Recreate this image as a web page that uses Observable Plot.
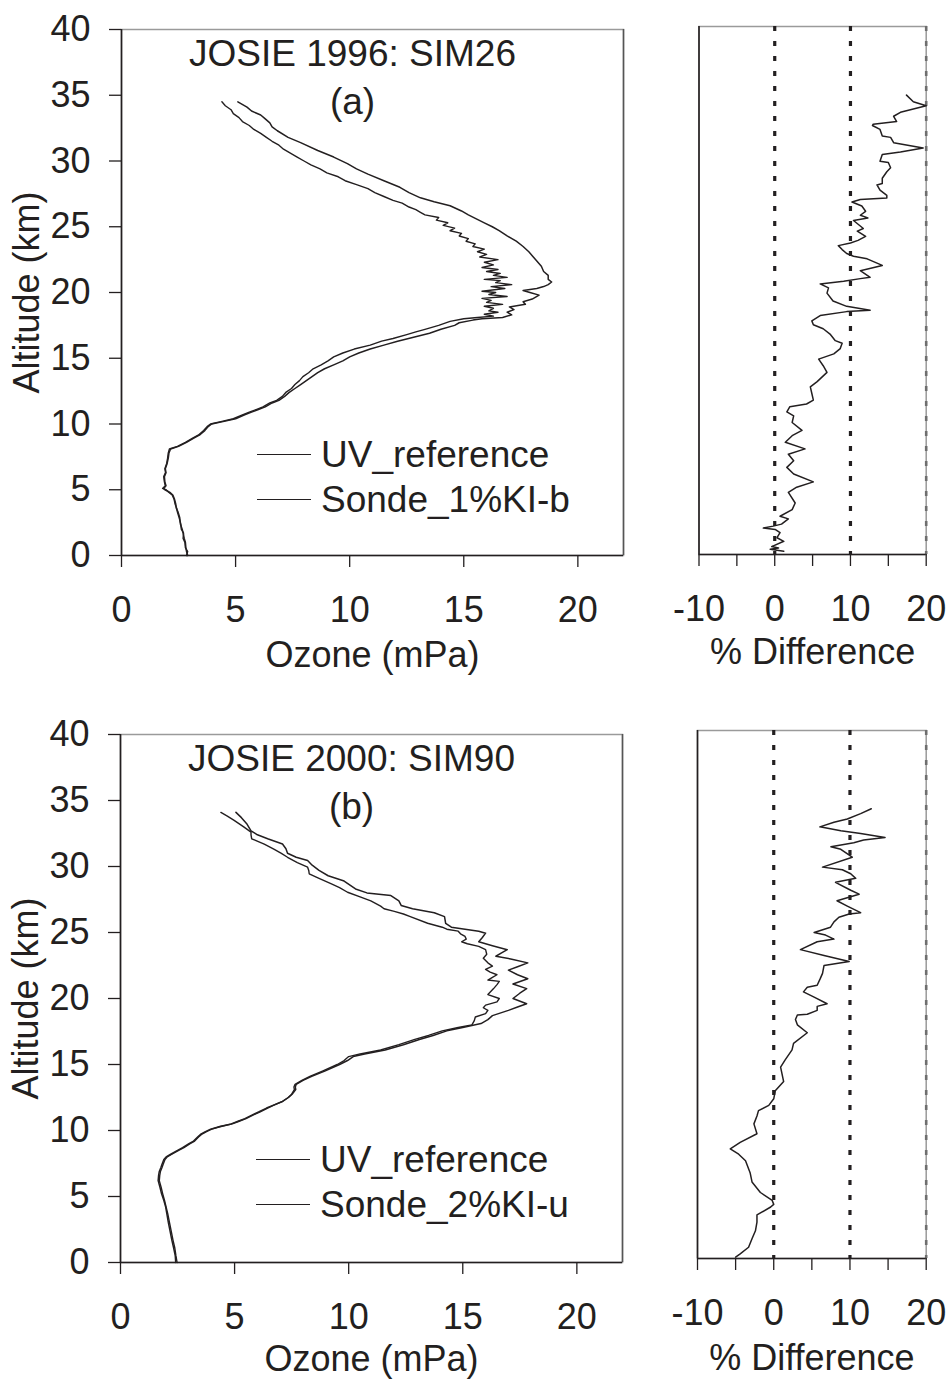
<!DOCTYPE html>
<html><head><meta charset="utf-8">
<script src="https://cdn.jsdelivr.net/npm/d3@7"></script>
<script src="https://cdn.jsdelivr.net/npm/@observablehq/plot@0.6"></script>
<style>
body{margin:0;background:#fff;}
#wrap{position:relative;width:948px;height:1379px;overflow:hidden;font-family:"Liberation Sans",Arial,Helvetica,sans-serif;color:#231f20;background:#fff;}
.panel{position:absolute;}
.leg{position:absolute;font-size:37px;}
.leg .row{display:flex;align-items:center;height:45px;white-space:nowrap;}
.leg .sw{display:inline-block;width:54px;height:0;border-top:1.3px solid #231f20;margin-right:10px;}
</style></head>
<body><div id="wrap"></div>
<script>
// ---------- data ----------
const altDomain = [0, 40];
const altTicks = [0, 5, 10, 15, 20, 25, 30, 35, 40];
const ozoneDomain = [0, 22];
const ozoneTicks = [0, 5, 10, 15, 20];
const diffDomain = [-10, 20];
const diffTicks = [-10, -5, 0, 5, 10, 15, 20];
const diffRefBlack = [0, 10];
const diffRefGrey = [20];

const titles = ["JOSIE 1996: SIM26", "JOSIE 2000: SIM90"];
const tags = ["(a)", "(b)"];
const seriesNames = ["UV_reference", "Sonde_1%KI-b", "Sonde_2%KI-u"];

// [altitude km, ozone mPa]
const uvA = [[0,2.85],[0.3,2.9],[0.6,2.8],[1.0,2.78],[1.3,2.7],[1.7,2.72],[2.0,2.62],[2.4,2.6],[2.9,2.52],[3.3,2.45],[3.6,2.42],[3.9,2.35],[4.3,2.3],[4.6,2.22],[4.8,2.08],[5.0,1.95],[5.1,1.8],[5.3,1.92],[5.6,1.88],[6.0,1.85],[6.3,1.93],[6.6,1.9],[7.0,1.98],[7.4,2.02],[7.8,2.05],[8.1,2.1],[8.3,2.45],[8.6,2.8],[8.9,3.1],[9.2,3.4],[9.5,3.6],[9.8,3.75],[10.0,3.9],[10.2,4.4],[10.4,4.9],[10.7,5.3],[10.9,5.6],[11.1,5.9],[11.3,6.2],[11.6,6.5],[11.8,6.8],[12.1,7.05],[12.4,7.2],[12.7,7.45],[13.0,7.6],[13.3,7.8],[13.6,7.95],[13.9,8.2],[14.2,8.4],[14.5,8.75],[14.8,9.05],[15.1,9.3],[15.4,9.7],[15.7,10.2],[16.0,10.9],[16.3,11.4],[16.5,11.9],[16.8,12.5],[17.0,12.9],[17.2,13.3],[17.5,13.9],[17.8,14.4],[18.0,15.0],[18.1,15.6],[18.2,16.3],[18.35,15.9],[18.5,16.5],[18.6,16.1],[18.8,16.3],[18.95,15.9],[19.1,16.7],[19.25,16.0],[19.4,16.2],[19.55,15.8],[19.7,16.9],[19.85,16.1],[20.0,16.4],[20.1,15.8],[20.3,16.8],[20.45,16.2],[20.6,17.1],[20.75,16.4],[20.9,16.6],[21.0,15.9],[21.15,16.9],[21.3,16.3],[21.45,16.6],[21.6,16.0],[21.75,16.5],[21.9,15.8],[22.1,16.3],[22.3,15.9],[22.5,16.5],[22.7,15.7],[22.9,16.0],[23.1,15.6],[23.3,15.9],[23.5,15.4],[23.7,15.5],[23.9,15.1],[24.1,15.2],[24.3,14.8],[24.5,14.9],[24.7,14.4],[24.9,14.6],[25.1,14.1],[25.3,14.3],[25.5,13.8],[25.7,13.9],[25.9,13.3],[26.1,13.1],[26.3,12.9],[26.5,12.6],[26.8,12.3],[27.0,11.9],[27.3,11.5],[27.6,11.1],[27.9,10.8],[28.2,10.3],[28.5,9.8],[28.8,9.5],[29.1,9.0],[29.4,8.7],[29.7,8.3],[30.0,8.0],[30.3,7.7],[30.6,7.4],[30.9,7.1],[31.2,6.9],[31.5,6.6],[31.8,6.35],[32.1,6.1],[32.4,5.8],[32.7,5.6],[33.0,5.3],[33.3,5.15],[33.6,4.9],[33.9,4.8],[34.2,4.55],[34.5,4.4]];

const sondeA = [[0,2.9],[0.3,2.85],[0.6,2.82],[1.0,2.8],[1.3,2.75],[1.7,2.7],[2.0,2.66],[2.4,2.58],[2.9,2.55],[3.3,2.48],[3.6,2.4],[3.9,2.38],[4.3,2.32],[4.6,2.25],[4.8,2.12],[5.0,1.9],[5.1,1.85],[5.3,1.95],[5.6,1.9],[6.0,1.88],[6.3,1.95],[6.6,1.92],[7.0,2.0],[7.4,2.05],[7.8,2.08],[8.1,2.15],[8.3,2.5],[8.6,2.85],[8.9,3.15],[9.2,3.45],[9.5,3.65],[9.8,3.8],[10.0,3.95],[10.2,4.5],[10.4,5.0],[10.7,5.4],[10.9,5.7],[11.1,6.0],[11.3,6.3],[11.6,6.6],[11.8,6.9],[12.1,7.15],[12.4,7.35],[12.7,7.6],[13.0,7.85],[13.3,8.1],[13.6,8.35],[13.9,8.6],[14.2,8.9],[14.5,9.3],[14.8,9.7],[15.1,10.0],[15.4,10.4],[15.7,10.9],[16.0,11.5],[16.3,12.1],[16.6,12.8],[16.9,13.5],[17.2,14.0],[17.5,14.6],[17.7,14.8],[17.9,15.4],[18.0,15.8],[18.1,16.7],[18.3,17.1],[18.5,16.9],[18.7,17.2],[18.9,17.0],[19.1,17.7],[19.3,17.6],[19.5,18.0],[19.8,18.3],[20.0,17.9],[20.15,17.6],[20.3,18.2],[20.45,18.5],[20.6,18.7],[20.8,18.85],[21.0,18.7],[21.3,18.7],[21.6,18.5],[22.0,18.4],[22.4,18.2],[22.8,18.0],[23.1,17.85],[23.5,17.6],[23.9,17.3],[24.3,16.9],[24.7,16.55],[25.0,16.25],[25.3,15.9],[25.6,15.55],[25.9,15.2],[26.2,14.9],[26.6,14.4],[26.9,13.7],[27.2,13.1],[27.6,12.6],[28.0,12.2],[28.5,11.5],[29.0,10.8],[29.4,10.3],[29.8,9.9],[30.3,9.3],[30.8,8.6],[31.4,7.85],[31.8,7.3],[32.3,6.83],[32.6,6.6],[32.9,6.5],[33.2,6.3],[33.5,6.1],[33.8,5.7],[34.1,5.5],[34.5,5.1]];

// [altitude km, % difference]
const diffA = [[0.25,1.2],[0.4,-0.6],[0.5,0.5],[0.6,-0.4],[1.0,1.2],[1.27,0.3],[1.65,0.7],[1.9,0.05],[2.0,-1.5],[2.15,-0.2],[2.3,0.9],[2.7,1.8],[2.9,0.7],[3.4,2.3],[3.9,2.7],[4.7,1.8],[5.1,2.9],[5.5,5.1],[6.1,2.5],[6.6,1.6],[7.1,2.5],[7.6,1.8],[8.0,4.0],[8.5,1.4],[9.0,2.3],[9.4,3.6],[10.0,2.3],[10.5,2.5],[10.8,1.6],[11.2,2.0],[11.4,4.2],[11.7,5.1],[12.2,4.9],[12.7,4.7],[13.1,5.6],[13.8,6.9],[14.3,6.4],[14.8,5.8],[15.2,7.8],[15.6,8.65],[16.0,8.9],[16.2,8.0],[16.7,7.3],[17.1,6.4],[17.4,5.1],[17.7,4.9],[18.1,6.0],[18.4,9.5],[18.5,12.6],[18.8,9.5],[19.2,7.7],[19.8,6.9],[20.2,7.1],[20.5,6.0],[20.7,9.1],[20.9,11.3],[21.0,12.6],[21.5,11.3],[21.9,14.2],[22.4,12.2],[22.6,10.4],[22.8,9.5],[23.1,8.9],[23.4,8.4],[23.6,10.0],[23.8,11.0],[24.1,12.0],[24.5,10.9],[24.7,11.7],[25.3,10.4],[25.5,12.3],[25.7,11.3],[26.0,12.0],[26.4,11.5],[26.7,10.2],[26.9,11.3],[27.0,14.8],[27.2,14.8],[27.6,13.9],[28.0,13.5],[28.1,14.2],[28.5,14.2],[29.0,14.8],[29.3,15.3],[29.7,15.0],[29.8,13.9],[30.3,14.2],[30.5,16.6],[30.8,19.6],[31.2,15.7],[31.6,15.3],[31.7,14.2],[32.2,13.9],[32.5,12.9],[32.6,13.0],[32.8,16.1],[33.2,15.7],[33.5,16.6],[34.0,20.0],[34.3,18.3],[34.8,17.4]];

const uvB = [[0,2.48],[0.5,2.43],[1.1,2.38],[1.7,2.3],[2.4,2.22],[3.0,2.15],[3.7,2.07],[4.2,2.0],[4.7,1.93],[5.2,1.85],[5.7,1.78],[6.2,1.7],[6.6,1.72],[6.9,1.75],[7.2,1.82],[7.45,1.87],[7.8,1.95],[8.0,2.05],[8.2,2.25],[8.5,2.55],[8.7,2.78],[9.0,3.05],[9.2,3.25],[9.5,3.42],[9.7,3.55],[9.9,3.75],[10.1,4.0],[10.3,4.4],[10.5,4.9],[10.7,5.2],[10.9,5.5],[11.2,5.85],[11.4,6.1],[11.7,6.45],[11.9,6.7],[12.2,7.1],[12.5,7.35],[12.75,7.5],[13.1,7.62],[13.3,7.6],[13.5,7.65],[13.8,7.95],[14.1,8.3],[14.5,8.85],[15.0,9.5],[15.3,9.8],[15.6,10.0],[15.8,10.5],[16.1,11.4],[16.5,12.2],[16.9,12.9],[17.2,13.5],[17.55,14.1],[17.8,14.8],[18.0,15.4],[18.3,15.5],[18.6,15.55],[18.85,16.0],[19.1,16.1],[19.3,15.9],[19.5,16.0],[19.75,16.5],[20.0,16.6],[20.3,16.1],[20.75,16.35],[21.05,16.5],[21.3,16.6],[21.4,16.1],[21.6,16.3],[21.8,16.5],[22.0,16.2],[22.2,16.0],[22.45,16.3],[22.7,16.1],[23.05,15.9],[23.35,16.05],[23.7,16.0],[23.95,15.7],[24.15,15.2],[24.3,14.95],[24.5,15.15],[24.7,15.1],[24.9,14.9],[25.1,14.8],[25.25,14.3],[25.4,14.1],[25.7,13.46],[26.2,12.7],[26.4,12.4],[26.6,12.0],[26.8,11.55],[27.0,11.4],[27.4,10.97],[27.7,10.5],[28.05,9.95],[28.4,9.6],[28.7,9.22],[29.1,8.7],[29.45,8.27],[29.7,8.25],[29.95,8.2],[30.3,7.75],[30.7,7.32],[31.0,7.05],[31.3,6.74],[31.7,6.3],[32.1,5.75],[32.4,5.72],[32.6,5.72],[33.0,5.4],[33.5,4.98],[33.8,4.7],[34.1,4.4]];

const sondeB = [[0,2.42],[0.5,2.4],[1.1,2.33],[1.7,2.25],[2.4,2.17],[3.0,2.1],[3.7,2.03],[4.2,1.98],[4.7,1.9],[5.2,1.8],[5.7,1.73],[6.2,1.65],[6.6,1.67],[6.9,1.7],[7.2,1.77],[7.45,1.82],[7.8,1.9],[8.0,2.0],[8.2,2.2],[8.5,2.5],[8.7,2.72],[9.0,3.0],[9.2,3.2],[9.5,3.38],[9.7,3.5],[9.9,3.7],[10.1,3.95],[10.3,4.35],[10.5,4.85],[10.7,5.15],[10.9,5.45],[11.2,5.8],[11.4,6.05],[11.7,6.4],[11.9,6.68],[12.2,7.1],[12.5,7.36],[12.75,7.52],[13.1,7.68],[13.3,7.66],[13.5,7.7],[13.8,8.0],[14.1,8.38],[14.5,8.95],[15.0,9.6],[15.3,9.95],[15.6,10.2],[15.8,10.7],[16.1,11.6],[16.5,12.4],[16.9,13.1],[17.2,13.7],[17.55,14.3],[17.8,15.0],[18.1,15.8],[18.4,16.1],[18.7,16.3],[19.1,17.0],[19.35,17.4],[19.6,17.8],[20.0,17.2],[20.4,17.5],[20.75,17.8],[21.1,17.2],[21.5,17.85],[21.8,17.4],[22.15,17.0],[22.4,17.4],[22.7,17.85],[23.0,17.1],[23.2,16.45],[23.45,16.7],[23.7,16.95],[24.0,16.3],[24.3,15.7],[24.6,15.85],[24.95,16.0],[25.1,15.7],[25.4,14.5],[25.7,14.25],[26.2,14.2],[26.5,13.75],[26.8,12.8],[27.05,12.3],[27.4,12.2],[27.8,11.85],[28.0,10.8],[28.3,10.3],[28.9,9.8],[29.3,9.1],[29.7,8.7],[30.1,8.4],[30.45,8.2],[30.7,7.7],[31.0,7.32],[31.35,7.25],[31.7,7.1],[32.1,6.45],[32.4,6.0],[32.7,5.72],[33.2,5.55],[33.7,5.3],[34.1,5.06]];

const diffB = [[0.1,-5.0],[0.35,-4.4],[0.85,-3.3],[1.5,-2.85],[2.1,-2.4],[2.75,-2.2],[3.3,-2.2],[3.9,-0.4],[4.1,0],[4.4,-0.2],[5.0,-1.75],[5.8,-2.85],[6.5,-3.1],[7.4,-3.7],[7.9,-4.6],[8.3,-5.7],[8.8,-4.4],[9.45,-2.2],[10.2,-2.6],[10.8,-2.2],[11.2,-2.0],[11.6,-0.65],[12.1,0],[12.7,0.2],[13.4,1.3],[14.5,0.9],[15.05,1.5],[15.8,2.4],[16.3,2.6],[17.1,4.4],[17.7,3.1],[18.1,2.85],[18.45,3.1],[18.5,4.4],[18.8,5.7],[19.1,5.7],[19.3,7.0],[19.8,5.3],[20.2,3.9],[20.55,4.4],[20.7,5.7],[21.2,6.1],[21.6,6.4],[22.2,6.6],[22.5,9.9],[22.95,6.6],[23.4,3.5],[24.0,5.7],[24.2,7.9],[24.5,6.8],[24.7,5.3],[25.1,7.45],[25.5,7.9],[25.85,8.55],[26.1,9.9],[26.2,11.4],[26.7,9.65],[27.1,8.3],[27.6,11.2],[27.9,10.1],[28.5,8.1],[28.8,10.75],[29.15,10.1],[29.45,9.0],[29.65,6.4],[30.4,10.3],[31.0,8.8],[31.2,7.5],[31.5,10.5],[31.7,11.8],[31.9,14.6],[32.2,11.4],[32.4,8.8],[32.7,6.05],[33.05,7.9],[33.3,9.65],[33.7,11.4],[34.07,12.8]];

// ---------- drawing ----------
const ink = "#231f20";
const font = "'Liberation Sans', Arial, Helvetica, sans-serif";
const fs = 36;
const wrap = document.getElementById("wrap");

function place(node, left, top) {
  node.classList.add("panel");
  node.style.left = left + "px";
  node.style.top = top + "px";
  wrap.appendChild(node);
}

function profilePanel({uv, sonde, title, tag, height, mt, mb, ml, mr, labelOffset}) {
  return Plot.plot({
    width: 640, height, marginTop: mt, marginBottom: mb, marginLeft: ml, marginRight: mr,
    x: {domain: ozoneDomain},
    y: {domain: altDomain},
    style: {fontFamily: font, fontSize: fs + "px", color: ink, background: "transparent", overflow: "visible"},
    marks: [
      Plot.frame({stroke: "#9a9a9a", strokeWidth: 1.5}),
      Plot.ruleX([ozoneDomain[1]], {stroke: "#555", strokeWidth: 1.5}),
      Plot.ruleX([ozoneDomain[0]], {stroke: ink, strokeWidth: 1.6}),
      Plot.ruleY([altDomain[0]], {stroke: ink, strokeWidth: 1.6}),
      Plot.axisY({ticks: altTicks, tickSize: 12, tickPadding: 19, fontSize: fs, strokeWidth: 1.3,
        label: "Altitude (km)", labelAnchor: "center", labelOffset: 108, labelArrow: "none"}),
      Plot.axisX({ticks: ozoneTicks, tickSize: 12, tickPadding: 29, fontSize: fs, strokeWidth: 1.3,
        label: "Ozone (mPa)", labelAnchor: "center", labelOffset, labelArrow: "none"}),
      Plot.line(uv, {x: d => d[1], y: d => d[0], stroke: ink, strokeWidth: 1.4}),
      Plot.line(sonde, {x: d => d[1], y: d => d[0], stroke: ink, strokeWidth: 1.5}),
      Plot.text([title], {frameAnchor: "top", dx: -20, dy: 25, fontSize: 37, lineAnchor: "middle", fill: ink}),
      Plot.text([tag], {frameAnchor: "top", dx: -20, dy: 73, fontSize: 37, lineAnchor: "middle", fill: ink})
    ]
  });
}

function diffPanel({data, height, mt, mb, ml, labelOffset}) {
  return Plot.plot({
    width: 308, height, marginTop: mt, marginBottom: mb, marginLeft: ml, marginRight: 22.3,
    x: {domain: diffDomain},
    y: {domain: altDomain, axis: null},
    style: {fontFamily: font, fontSize: fs + "px", color: ink, background: "transparent", overflow: "visible"},
    marks: [
      Plot.frame({stroke: "#9a9a9a", strokeWidth: 1.5}),
      Plot.ruleX(diffRefBlack, {stroke: ink, strokeWidth: 3.2, strokeDasharray: "5,10"}),
      Plot.ruleX(diffRefGrey, {stroke: "#6e6e6e", strokeWidth: 2.6, strokeDasharray: "5,10"}),
      Plot.ruleX([diffDomain[0]], {stroke: ink, strokeWidth: 1.6}),
      Plot.ruleY([altDomain[0]], {stroke: ink, strokeWidth: 1.6}),
      Plot.axisX({ticks: diffTicks, tickSize: 12, tickPadding: 29, fontSize: fs, strokeWidth: 1.3,
        tickFormat: d => (d % 10 === 0 ? String(d) : ""),
        label: "% Difference", labelAnchor: "center", labelOffset, labelArrow: "none"}),
      Plot.line(data, {x: d => d[1], y: d => d[0], stroke: ink, strokeWidth: 1.5})
    ]
  });
}

place(profilePanel({uv: uvA, sonde: sondeA, title: titles[0], tag: tags[0], height: 690, mt: 29, mb: 135, ml: 121, mr: 17, labelOffset: 111}), 0, 0);
place(diffPanel({data: diffA, height: 690, mt: 26, mb: 136, ml: 58.5, labelOffset: 109}), 640, 0);
place(profilePanel({uv: uvB, sonde: sondeB, title: titles[1], tag: tags[1], height: 674, mt: 29, mb: 117, ml: 120, mr: 18, labelOffset: 108}), 0, 705);
place(diffPanel({data: diffB, height: 674, mt: 25, mb: 121, ml: 57, labelOffset: 111}), 640, 705);

function legend(left, top, names) {
  const div = document.createElement("div");
  div.className = "leg";
  div.style.left = left + "px";
  div.style.top = top + "px";
  for (const n of names) {
    const row = document.createElement("div");
    row.className = "row";
    const sw = document.createElement("span");
    sw.className = "sw";
    const t = document.createElement("span");
    t.textContent = n;
    row.appendChild(sw); row.appendChild(t);
    div.appendChild(row);
  }
  wrap.appendChild(div);
}
legend(257, 432, [seriesNames[0], seriesNames[1]]);
legend(256, 1137, [seriesNames[0], seriesNames[2]]);
</script></body></html>
